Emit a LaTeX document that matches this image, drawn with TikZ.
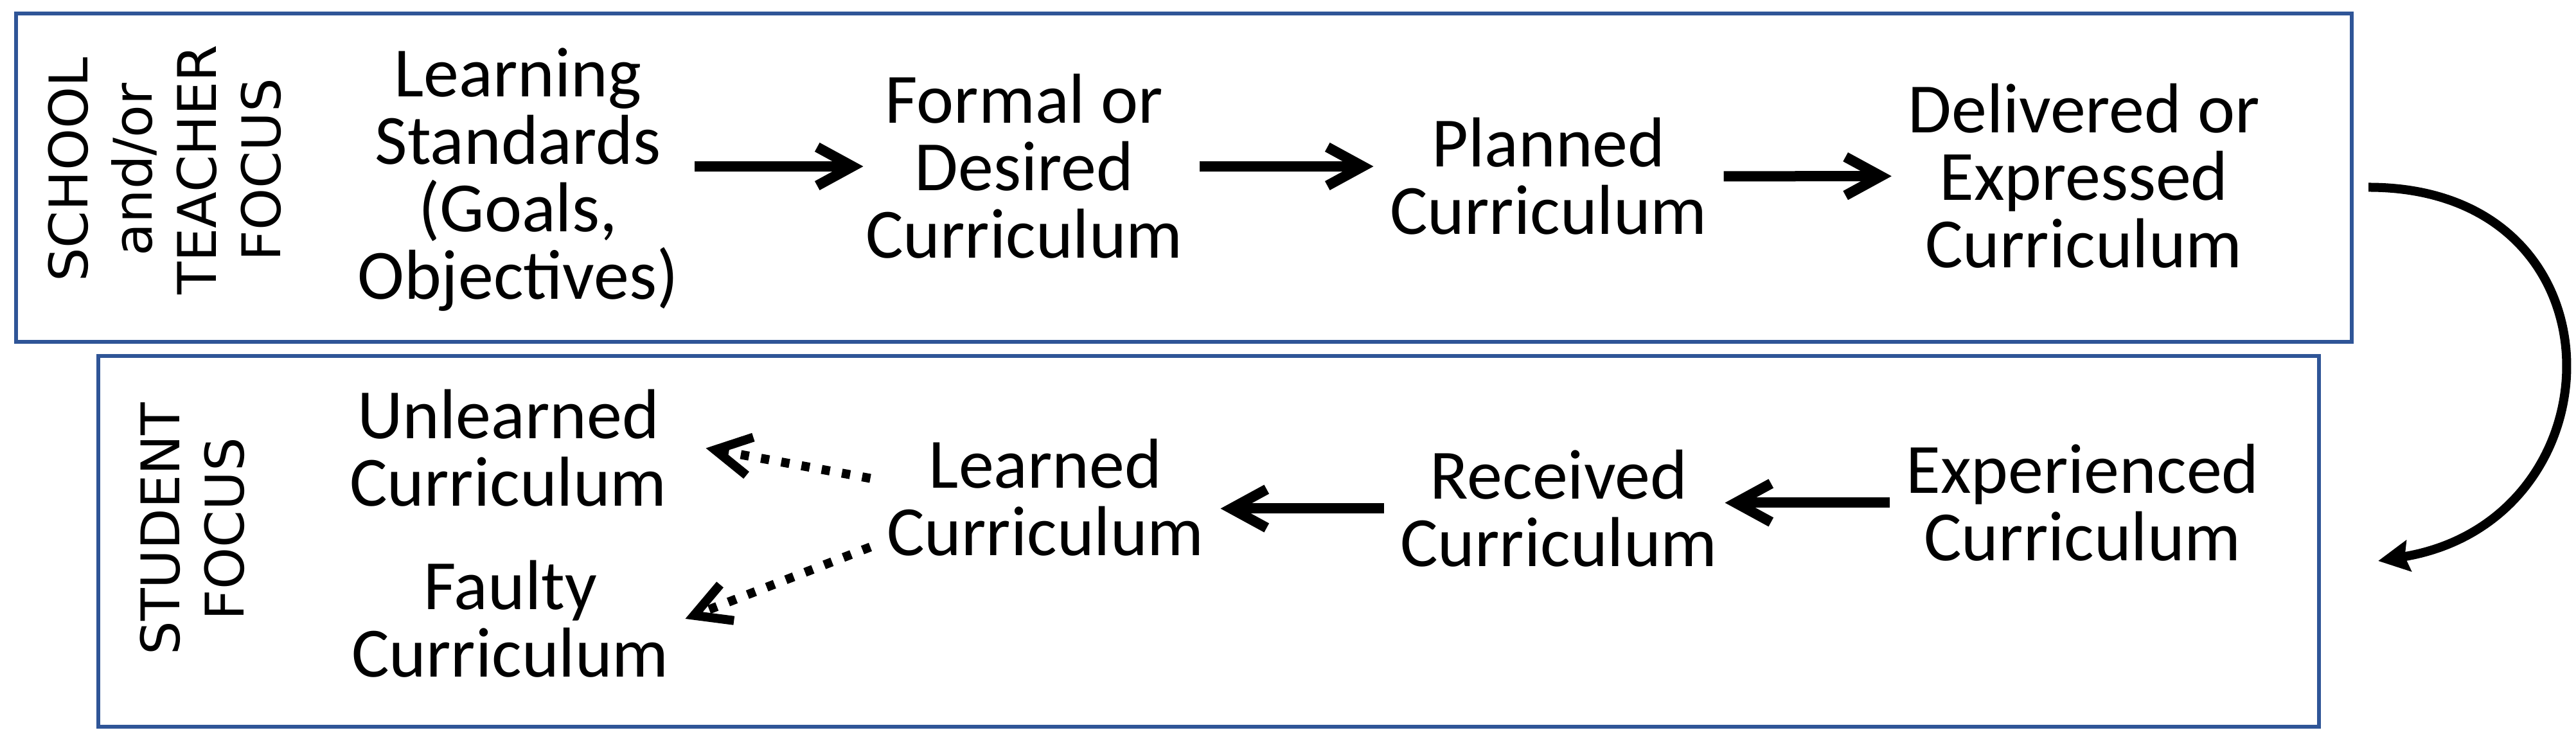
\documentclass[tikz,border=0pt]{standalone}
\usepackage{fontspec}
\setmainfont{Carlito}
\newfontfamily\sidefont{DejaVu Sans}
\usetikzlibrary{arrows.meta}
\definecolor{boxblue}{HTML}{2F5597}
\begin{document}
\begin{tikzpicture}[
    stage/.style={align=center, inner sep=0.25cm, font=\fontsize{31.3}{29.9}\selectfont},
    side/.style={align=center, rotate=90, inner sep=0pt, font=\sidefont\fontsize{23.6}{28.45}\selectfont},
    frame/.style={draw=boxblue, line width=0.06cm, rectangle, inner sep=0pt},
    flow/.style={line width=0.16cm, -{Straight Barb[length=0.55cm, width=0.6cm]}},
    maybe/.style={line width=0.14cm, dash pattern=on 0.13cm off 0.19cm, -{Straight Barb[length=0.55cm, width=0.6cm]}},
    turn/.style={line width=0.14cm, -{Stealth[length=0.48cm, width=0.48cm, inset=0.06cm]}}]
  \useasboundingbox (0,0) rectangle (40.09,11.61);
  % the two frames
  \node[frame, minimum width=36.35cm, minimum height=5.11cm] (top) at (18.425,8.845) {};
  \node[frame, minimum width=34.56cm, minimum height=5.77cm] (bottom) at (18.81,3.185) {};
  % school / teacher row
  \node[side] (teachfocus) at (2.56,8.97) {SCHOOL\\and/or\\TEACHER\\FOCUS};
  \node[stage] (standards) at (8.06,8.815) {Learning\\Standards\\(Goals,\\Objectives)};
  \node[stage] (formal) at (15.94,9.02) {Formal or\\Desired\\Curriculum};
  \node[stage] (planned) at (24.10,8.865) {Planned\\Curriculum};
  \node[stage] (delivered) at (32.43,8.87) {Delivered or\\Expressed\\Curriculum};
  % student row
  \node[side] (studfocus) at (2.99,3.38) {STUDENT\\FOCUS};
  \node[stage] (experienced) at (32.41,3.785) {Experienced\\Curriculum};
  \node[stage] (received) at (24.26,3.695) {Received\\Curriculum};
  \node[stage] (learned) at (16.27,3.865) {Learned\\Curriculum};
  \node[stage] (unlearned) at (7.91,4.635) {Unlearned\\Curriculum};
  \node[stage] (faulty) at (7.94,1.98) {Faulty\\Curriculum};
  % arrows
  \draw[flow, shorten >=-0.22cm] (standards.east |- formal.west) -- (formal.west);
  \draw[flow] (formal.east) -- (planned.west |- formal.east);
  \draw[flow] (planned) -- (delivered);
  \draw[turn] ([shift={(0.23,-0.15)}]top.east) .. controls +(4.07,0) and +(3.82,0.63) .. ([shift={(0.89,-0.305)}]bottom.east);
  \draw[flow, shorten >=-0.14cm] (experienced.west) -- (received.east |- experienced.west);
  \draw[flow] (received.west) -- (learned.east |- received.west);
  \draw[maybe] ([yshift=0.3cm]learned.west) -- ([xshift=0.35cm]unlearned.east);
  \draw[maybe] ([yshift=0.4cm]learned.south west) -- (faulty.east);
\end{tikzpicture}
\end{document}
